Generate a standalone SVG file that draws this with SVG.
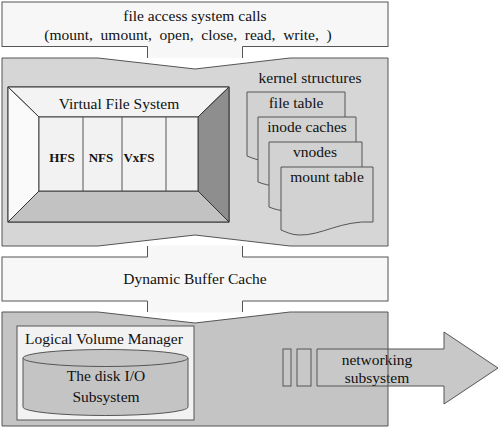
<svg xmlns="http://www.w3.org/2000/svg" width="500" height="429" viewBox="0 0 500 429">
<style>
.s{stroke:#555;stroke-width:1}
.t{font-family:"Liberation Serif","Times New Roman",serif;font-size:15.5px;fill:#111;text-anchor:middle}
.b{font-weight:bold;font-size:13px}
.doc{fill:#d2d2d2;stroke:#555;stroke-width:1}
</style>
<rect width="500" height="429" fill="#fff"/>

<g id="syscalls">
<rect class="s" x="2" y="2" width="386" height="44.5" fill="#f7f7f7"/>
<text class="t" x="195" y="21">file access system calls</text>
<text class="t" x="188" y="40" xml:space="preserve">(mount,  umount,  open,  close,  read,  write,  )</text>
</g>

<g id="kernel">
<polygon class="s" fill="#d6d6d6" points="2,58 98,58 195,69 290,58 388,58 388,246 290,246 195,235 98,246 2,246"/>
</g>

<g id="vfs">
<rect x="8" y="87" width="221" height="135" fill="#f2f2f2" stroke="#444"/>
<polygon points="8,87 229,87 198,117 39,117" fill="#f3f3f3" stroke="#333"/>
<polygon points="8,87 39,117 39,191 8,222" fill="#fafafa" stroke="#333"/>
<polygon points="229,87 229,222 198,191 198,117" fill="#8e8e8e" stroke="#333"/>
<polygon points="8,222 39,191 198,191 229,222" fill="#c2c2c2" stroke="#333"/>
<rect x="39" y="117" width="159" height="74" fill="#f2f2f2" stroke="#444"/>
<line class="s" x1="83" y1="117" x2="83" y2="191"/>
<line class="s" x1="122" y1="117" x2="122" y2="191"/>
<line class="s" x1="166" y1="117" x2="166" y2="191"/>
<text class="t" x="119" y="109">Virtual File System</text>
<text class="t b" x="62" y="162">HFS</text>
<text class="t b" x="101" y="162">NFS</text>
<text class="t b" x="139" y="162">VxFS</text>
</g>

<g id="kernel-structures">
<text class="t" x="310" y="83">kernel structures</text>
</g>
<g id="file-table">
<path class="doc" d="M247,92 H345 V148 C311,146 289,161 267,161 C259,161 252,158 247,156 Z"/>
<text class="t" x="296" y="108">file table</text>
</g>
<g id="inode-caches">
<path class="doc" d="M258,117 H356 V173 C322,171 300,186 278,186 C270,186 263,184 258,182 Z"/>
<text class="t" x="307" y="132">inode caches</text>
</g>
<g id="vnodes">
<path class="doc" d="M269,142 H362 V198 C329,196 309,211 288,211 C280,211 274,209 269,207 Z"/>
<text class="t" x="315" y="157">vnodes</text>
</g>
<g id="mount-table">
<path class="doc" d="M281,167 H373 V222 C341,220 321,236 299,235 C292,235 286,232 281,230 Z"/>
<text class="t" x="327" y="182">mount table</text>
</g>

<g id="buffer-cache">
<rect class="s" x="2" y="257" width="386" height="44" fill="#f7f7f7"/>
<text class="t" x="195" y="284">Dynamic Buffer Cache</text>
</g>

<g id="lower">
<polygon fill="#c4c4c4" points="2,312 98,312 195,323 290,312 388,312 388,426 2,426"/>
</g>

<g id="lvm">
<rect class="s" x="17" y="326" width="177" height="94" fill="#f2f2f2"/>
<text class="t" x="104" y="344">Logical Volume Manager</text>
<path class="s" fill="#c4c4c4" d="M23,358 V407 A82.5,8.5 0 0 0 188,407 V358"/>
<ellipse class="s" cx="105.5" cy="358" rx="82.5" ry="8.5" fill="#c4c4c4"/>
<text class="t" x="106" y="381">The disk I/O</text>
<text class="t" x="106" y="402">Subsystem</text>
</g>

<g id="networking">
<rect class="s" x="283" y="349" width="8" height="37" fill="#c8c8c8"/>
<rect class="s" x="297" y="349" width="14" height="37" fill="#c8c8c8"/>
<polygon class="s" fill="#c8c8c8" points="317,349 444,349 444,332 498,368 444,404 444,386 317,386"/>
<text class="t" x="377" y="365">networking</text>
<text class="t" x="377" y="383">subsystem</text>
</g>

<g id="lower-outline">
<polygon class="s" fill="none" points="2,312 98,312 195,323 290,312 388,312 388,426 2,426"/>
</g>

<g id="connectors">
<rect x="147.5" y="45" width="95" height="13" fill="#f7f7f7"/>
<line class="s" x1="147.5" y1="46.5" x2="147.5" y2="58"/>
<line class="s" x1="242.5" y1="46.5" x2="242.5" y2="58"/>
<rect x="147.5" y="245.5" width="95" height="12.5" fill="#f7f7f7"/>
<line class="s" x1="147.5" y1="246" x2="147.5" y2="257"/>
<line class="s" x1="242.5" y1="246" x2="242.5" y2="257"/>
<rect x="147.5" y="300" width="95" height="12.5" fill="#f7f7f7"/>
<line class="s" x1="147.5" y1="301" x2="147.5" y2="312"/>
<line class="s" x1="242.5" y1="301" x2="242.5" y2="312"/>
</g>
</svg>
